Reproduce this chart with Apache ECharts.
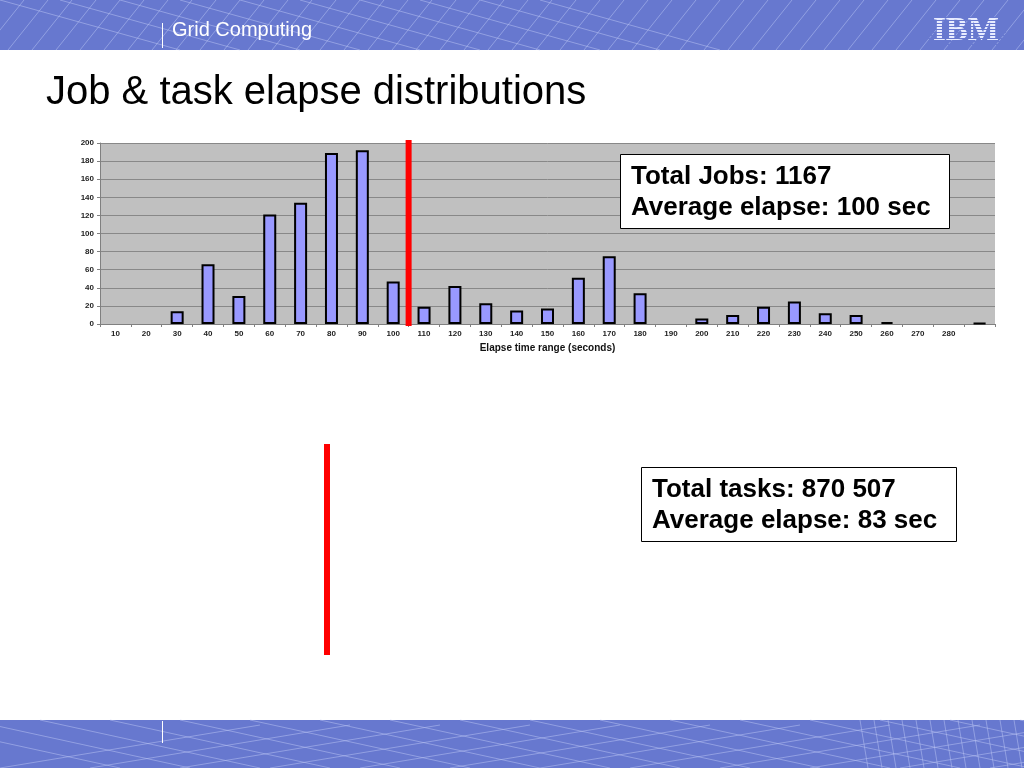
<!DOCTYPE html>
<html><head><meta charset="utf-8">
<script src="https://cdn.jsdelivr.net/npm/echarts@6/dist/echarts.min.js"></script>
<style>html,body{margin:0;padding:0;background:#fff}#c{width:1024px;height:768px}</style>
</head><body><div id="c"></div>
<script>
// ---- data ----
var categories = ['10','20','30','40','50','60','70','80','90','100','110','120','130','140','150','160','170','180','190','200','210','220','230','240','250','260','270','280',''];
var jobCounts = [0,0,14,66,31,121,134,189,192,47,19,42,23,15,17,51,75,34,0,6,10,19,25,12,10,2,0,0,1];
var yTicks = {min:0, max:200, interval:20};
var pageTitle = 'Job & task elapse distributions';
var headerText = 'Grid Computing';
var jobsBox = ['Total Jobs: 1167', 'Average elapse: 100 sec'];
var tasksBox = ['Total tasks: 870 507', 'Average elapse: 83 sec'];
var avgBetween = ['100','110'];

var chart = echarts.init(document.getElementById('c'), null, {renderer:'canvas'});
var F = '"Liberation Sans", Arial, sans-serif';
var blue = '#6778CF';
var lineC = 'rgba(190,200,245,0.5)';

function bgLines(y0, seedLines) {
  return seedLines.map(function (l) {
    return {type:'line', silent:true, z:1, shape:{x1:l[0], y1:y0 + l[1], x2:l[2], y2:y0 + l[3]}, style:{stroke:lineC, lineWidth:1}};
  });
}
var headLines = [];
for (var i = -40; i < 1024; i += 24) headLines.push([i, 50, i + 40, 0]);
for (var j = 0; j < 600; j += 60) headLines.push([j, 0, j + 180, 50]);
var footLines = [];
for (var k = -100; k < 1024; k += 70) footLines.push([k, 0, k + 220, 48]);
for (var m = 0; m < 1024; m += 90) footLines.push([m, 48, m + 260, 5]);
for (var n = 860; n < 1060; n += 14) footLines.push([n, 0, n + 8, 48]);

var ibmStripes = [];
for (var s = 17; s < 45; s += 3) ibmStripes.push({type:'rect', silent:true, z:6, shape:{x:928, y:s, width:78, height:1}, style:{fill:blue}});

var baseGraphic = [].concat(
  [{type:'rect', silent:true, z:0, shape:{x:0, y:0, width:1024, height:50}, style:{fill:blue}}],
  bgLines(0, headLines),
  [{type:'rect', silent:true, z:0, shape:{x:0, y:720, width:1024, height:48}, style:{fill:blue}}],
  bgLines(720, footLines),
  [
    {type:'rect', silent:true, z:5, shape:{x:162, y:23, width:1, height:25}, style:{fill:'#fff'}},
    {type:'rect', silent:true, z:5, shape:{x:162, y:721, width:1, height:22}, style:{fill:'#fff'}},
    {type:'text', silent:true, z:5, x:172, y:30, style:{text:headerText, font:'20px ' + F, fill:'#fff', verticalAlign:'middle'}},
    {type:'text', silent:true, z:5, x:966, y:31, style:{text:'IBM', font:'bold 33px "Liberation Serif", serif', fill:'#e8ecff', align:'center', verticalAlign:'middle'}},
    {type:'text', silent:true, z:5, x:46, y:93, style:{text:pageTitle, font:'40px ' + F, fill:'#000', verticalAlign:'middle'}},
    {type:'rect', silent:true, z:10, shape:{x:620.5, y:154.5, width:329, height:74}, style:{fill:'#fff', stroke:'#000', lineWidth:1}},
    {type:'text', silent:true, z:11, x:631, y:177, style:{text:jobsBox[0], font:'bold 26px ' + F, fill:'#000', verticalAlign:'middle'}},
    {type:'text', silent:true, z:11, x:631, y:208, style:{text:jobsBox[1], font:'bold 26px ' + F, fill:'#000', verticalAlign:'middle'}},
    {type:'rect', silent:true, z:10, shape:{x:641.5, y:467.5, width:315, height:74}, style:{fill:'#fff', stroke:'#000', lineWidth:1}},
    {type:'text', silent:true, z:11, x:652, y:490, style:{text:tasksBox[0], font:'bold 26px ' + F, fill:'#000', verticalAlign:'middle'}},
    {type:'text', silent:true, z:11, x:652, y:521, style:{text:tasksBox[1], font:'bold 26px ' + F, fill:'#000', verticalAlign:'middle'}},
    {type:'rect', silent:true, z:10, shape:{x:324, y:444, width:6, height:211}, style:{fill:'#f00'}}
  ],
  ibmStripes
);

chart.setOption({
  animation:false,
  backgroundColor:'#fff',
  grid:{left:100, right:29, top:143, bottom:444, show:true, backgroundColor:'#C0C0C0', borderWidth:0},
  xAxis:{
    type:'category', data:categories, boundaryGap:true,
    axisLine:{show:true, lineStyle:{color:'#808080', width:1}},
    axisTick:{show:true, alignWithLabel:false, length:3, lineStyle:{color:'#808080'}},
    axisLabel:{color:'#222', fontSize:8, fontWeight:'bold', fontFamily:F, margin:6, interval:0},
    name:'Elapse time range (seconds)', nameLocation:'middle', nameGap:19,
    nameTextStyle:{color:'#111', fontSize:10, fontWeight:'bold', fontFamily:F}
  },
  yAxis:{
    type:'value', min:yTicks.min, max:yTicks.max, interval:yTicks.interval,
    axisLine:{show:true, lineStyle:{color:'#808080'}},
    axisTick:{show:true, length:3, lineStyle:{color:'#808080'}},
    axisLabel:{color:'#222', fontSize:8, fontWeight:'bold', fontFamily:F, margin:6},
    splitLine:{show:true, lineStyle:{color:'#888', width:1}}
  },
  series:[{
    type:'bar', barWidth:13,
    data:jobCounts.map(function(v){return v === 0 ? '-' : v;}),
    itemStyle:{color:'#9999FF', borderColor:'#000', borderWidth:2}
  }],
  graphic:baseGraphic
});

var xa = chart.convertToPixel({xAxisIndex:0}, avgBetween[0]);
var xb = chart.convertToPixel({xAxisIndex:0}, avgBetween[1]);
var xMid = (xa + xb) / 2;
chart.setOption({graphic:baseGraphic.concat([
  {type:'rect', silent:true, z:9, shape:{x:xMid - 3, y:140, width:6, height:186}, style:{fill:'#f00'}}
])});
</script>
</body></html>
